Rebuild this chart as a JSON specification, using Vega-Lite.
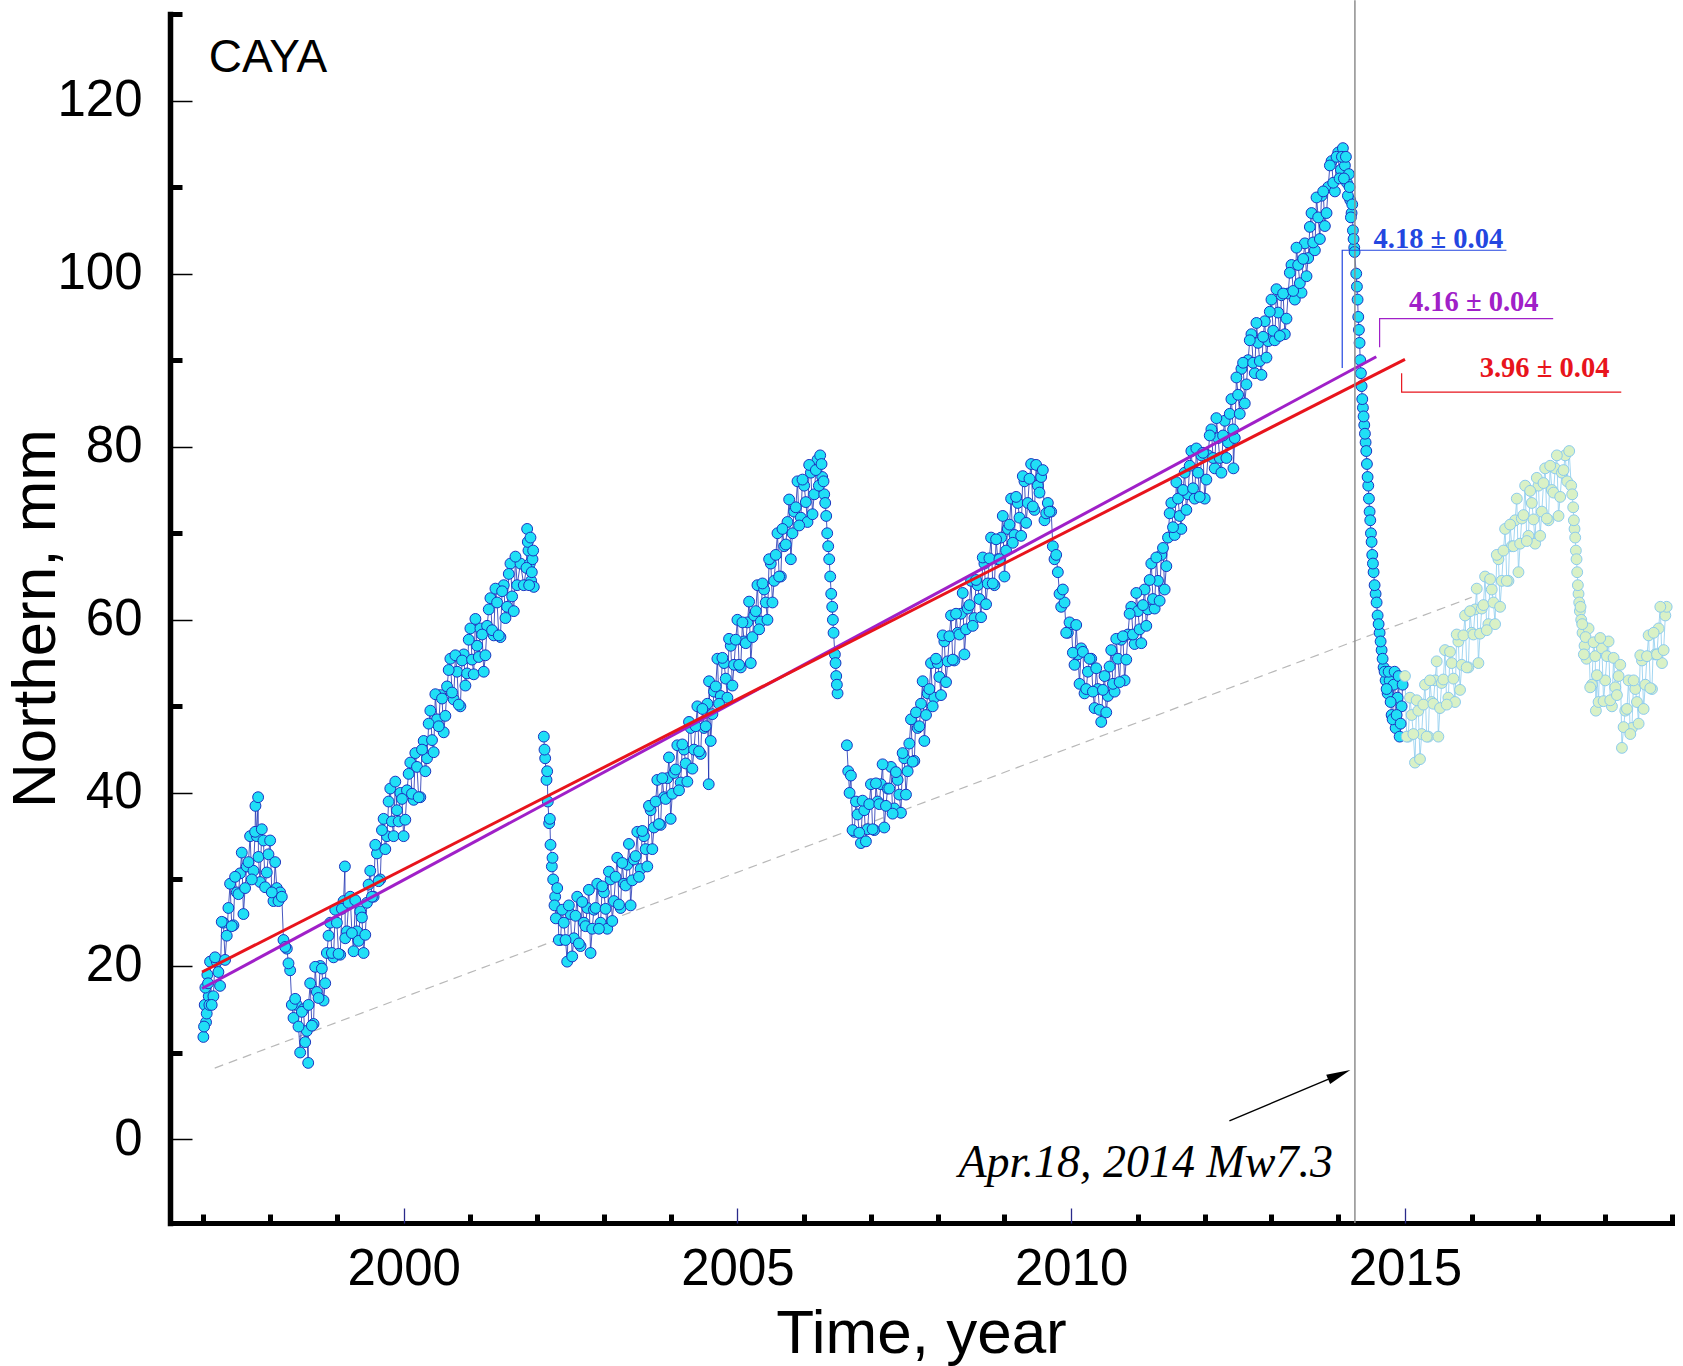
{
  "$schema": "https://vega.github.io/schema/vega-lite/v6.json",
  "description": "CAYA GPS station, northern component",
  "width": 1502,
  "height": 1209,
  "autosize": "none",
  "padding": {"left": 170, "top": 14, "right": 11, "bottom": 143},
  "background": "white",
  "config": {
    "view": {"stroke": null},
    "axis": {"grid": false, "labelFont": "Liberation Sans", "titleFont": "Liberation Sans", "labelColor": "black", "titleColor": "black", "titleFontWeight": "normal"}
  },
  "datasets": {
    "gps": [
      {"s":"a","t":1997.00,"n":11.8},{"s":"a","t":1997.02,"n":15.5},{"s":"a","t":1997.04,"n":13.5},{"s":"a","t":1997.06,"n":19},{"s":"a","t":1997.08,"n":16.5},
      {"s":"a","t":1997.01,"n":13},{"s":"a","t":1997.03,"n":17.5},{"s":"a","t":1997.05,"n":14.5},{"s":"a","t":1997.07,"n":18},{"s":"a","t":1997.09,"n":15.5},
      {"s":"a","t":1997.10,"n":20.5},{"s":"a","t":1997.15,"n":16.5},{"s":"a","t":1997.20,"n":20.5},{"s":"a","t":1997.25,"n":17.7},{"s":"a","t":1997.30,"n":25},
      {"s":"a","t":1997.35,"n":23.5},{"s":"a","t":1997.40,"n":29.5},{"s":"a","t":1997.45,"n":24.7},{"s":"a","t":1997.50,"n":28.5},{"s":"a","t":1997.55,"n":30.7},
      {"s":"a","t":1997.60,"n":26},{"s":"a","t":1997.65,"n":31.5},{"s":"a","t":1997.70,"n":35},{"s":"a","t":1997.75,"n":31},{"s":"a","t":1997.78,"n":38.5},
      {"s":"a","t":1997.80,"n":35},{"s":"a","t":1997.82,"n":39.5},{"s":"a","t":1997.85,"n":29.7},{"s":"a","t":1997.90,"n":34.5},{"s":"a","t":1997.95,"n":30.8},
      {"s":"a","t":1998.00,"n":34.5},{"s":"a","t":1998.05,"n":27.5},{"s":"a","t":1998.10,"n":29},{"s":"a","t":1998.15,"n":28.5},{"s":"a","t":1998.20,"n":23},
      {"s":"a","t":1998.25,"n":22},{"s":"a","t":1998.30,"n":19.5},{"s":"a","t":1998.35,"n":14},{"s":"a","t":1998.40,"n":15.5},{"s":"a","t":1998.45,"n":10},
      {"s":"a","t":1998.50,"n":15},{"s":"a","t":1998.55,"n":12.5},{"s":"a","t":1998.57,"n":8.8},{"s":"a","t":1998.60,"n":18},{"s":"a","t":1998.65,"n":13.3},
      {"s":"a","t":1998.70,"n":17},{"s":"a","t":1998.75,"n":20},{"s":"a","t":1998.80,"n":16},{"s":"a","t":1998.85,"n":21.5},{"s":"a","t":1998.90,"n":25},
      {"s":"a","t":1998.95,"n":21},{"s":"a","t":1999.00,"n":25},{"s":"a","t":1999.05,"n":21.3},{"s":"a","t":1999.10,"n":27.5},{"s":"a","t":1999.12,"n":31.5},
      {"s":"a","t":1999.15,"n":24},{"s":"a","t":1999.20,"n":28},{"s":"a","t":1999.25,"n":21.7},{"s":"a","t":1999.30,"n":24},{"s":"a","t":1999.35,"n":26.3},
      {"s":"a","t":1999.40,"n":21.5},{"s":"a","t":1999.45,"n":27.3},{"s":"a","t":1999.50,"n":31},{"s":"a","t":1999.55,"n":28},{"s":"a","t":1999.60,"n":33},
      {"s":"a","t":1999.65,"n":30},{"s":"a","t":1999.70,"n":37},{"s":"a","t":1999.75,"n":35},{"s":"a","t":1999.80,"n":40.5},{"s":"a","t":1999.85,"n":35},
      {"s":"a","t":1999.90,"n":38},{"s":"a","t":1999.95,"n":40},{"s":"a","t":2000.00,"n":35},{"s":"a","t":2000.05,"n":40.3},{"s":"a","t":2000.10,"n":43.5},
      {"s":"a","t":2000.15,"n":39.2},{"s":"a","t":2000.20,"n":43},{"s":"a","t":2000.25,"n":39.5},{"s":"a","t":2000.30,"n":46},{"s":"a","t":2000.35,"n":44},
      {"s":"a","t":2000.40,"n":49.5},{"s":"a","t":2000.45,"n":44.7},{"s":"a","t":2000.50,"n":48.5},{"s":"a","t":2000.55,"n":51.3},{"s":"a","t":2000.60,"n":47},
      {"s":"a","t":2000.65,"n":52.3},{"s":"a","t":2000.70,"n":55.5},{"s":"a","t":2000.75,"n":50.8},{"s":"a","t":2000.80,"n":54},{"s":"a","t":2000.85,"n":50},
      {"s":"a","t":2000.90,"n":56},{"s":"a","t":2000.95,"n":53.8},{"s":"a","t":2001.00,"n":59},{"s":"a","t":2001.05,"n":53.7},{"s":"a","t":2001.10,"n":57},
      {"s":"a","t":2001.15,"n":59},{"s":"a","t":2001.20,"n":54},{"s":"a","t":2001.25,"n":59.3},{"s":"a","t":2001.30,"n":62.5},{"s":"a","t":2001.35,"n":58.2},
      {"s":"a","t":2001.40,"n":62},{"s":"a","t":2001.45,"n":58},{"s":"a","t":2001.50,"n":64},{"s":"a","t":2001.55,"n":61.5},{"s":"a","t":2001.60,"n":66.5},
      {"s":"a","t":2001.65,"n":61},{"s":"a","t":2001.70,"n":64},{"s":"a","t":2001.75,"n":66.5},{"s":"a","t":2001.80,"n":64},{"s":"a","t":2001.85,"n":70.5},
      {"s":"a","t":2001.87,"n":68},{"s":"a","t":2001.89,"n":66.5},{"s":"a","t":2001.91,"n":64.5},{"s":"a","t":2001.93,"n":67},{"s":"a","t":2001.95,"n":63.8},
      {"s":"a","t":2001.84,"n":66},{"s":"a","t":2001.86,"n":69},{"s":"a","t":2001.88,"n":64},{"s":"a","t":2001.90,"n":69.5},{"s":"a","t":2001.92,"n":65.5},{"s":"a","t":2001.94,"n":68},
      {"s":"a","t":1997.125,"n":15.5},{"s":"a","t":1997.175,"n":21},{"s":"a","t":1997.225,"n":19.3},{"s":"a","t":1997.275,"n":25.1},{"s":"a","t":1997.325,"n":20.7},
      {"s":"a","t":1997.375,"n":26.7},{"s":"a","t":1997.425,"n":24.6},{"s":"a","t":1997.475,"n":30.3},{"s":"a","t":1997.525,"n":28.3},{"s":"a","t":1997.575,"n":33.1},
      {"s":"a","t":1997.625,"n":29},{"s":"a","t":1997.675,"n":32},{"s":"a","t":1997.725,"n":30},{"s":"a","t":1997.775,"n":35.5},{"s":"a","t":1997.825,"n":32.6},
      {"s":"a","t":1997.875,"n":35.8},{"s":"a","t":1997.925,"n":29.1},{"s":"a","t":1997.975,"n":32.9},{"s":"a","t":1998.025,"n":28.5},{"s":"a","t":1998.075,"n":32},
      {"s":"a","t":1998.125,"n":27.5},{"s":"a","t":1998.175,"n":28},{"s":"a","t":1998.225,"n":22.2},{"s":"a","t":1998.275,"n":20.3},{"s":"a","t":1998.325,"n":15.5},
      {"s":"a","t":1998.375,"n":16.2},{"s":"a","t":1998.425,"n":13},{"s":"a","t":1998.475,"n":14.7},{"s":"a","t":1998.525,"n":11.2},{"s":"a","t":1998.575,"n":15.5},
      {"s":"a","t":1998.625,"n":13.1},{"s":"a","t":1998.675,"n":19.9},{"s":"a","t":1998.725,"n":16.3},{"s":"a","t":1998.775,"n":19.7},{"s":"a","t":1998.825,"n":18},
      {"s":"a","t":1998.875,"n":23.5},{"s":"a","t":1998.925,"n":21.5},{"s":"a","t":1998.975,"n":26.5},{"s":"a","t":1999.025,"n":21.4},{"s":"a","t":1999.075,"n":26.6},
      {"s":"a","t":1999.125,"n":23.2},{"s":"a","t":1999.175,"n":27.3},{"s":"a","t":1999.225,"n":23.8},{"s":"a","t":1999.275,"n":27.6},{"s":"a","t":1999.325,"n":22.9},
      {"s":"a","t":1999.375,"n":25.6},{"s":"a","t":1999.425,"n":23.6},{"s":"a","t":1999.475,"n":29.4},{"s":"a","t":1999.525,"n":28},{"s":"a","t":1999.575,"n":34},
      {"s":"a","t":1999.625,"n":29.8},{"s":"a","t":1999.675,"n":35.7},{"s":"a","t":1999.725,"n":33.5},{"s":"a","t":1999.775,"n":39},{"s":"a","t":1999.825,"n":36.7},
      {"s":"a","t":1999.875,"n":41.3},{"s":"a","t":1999.925,"n":36.7},{"s":"a","t":1999.975,"n":39.3},{"s":"a","t":2000.025,"n":36.9},{"s":"a","t":2000.075,"n":42.2},
      {"s":"a","t":2000.125,"n":39.9},{"s":"a","t":2000.175,"n":44.6},{"s":"a","t":2000.225,"n":39.5},{"s":"a","t":2000.275,"n":45},{"s":"a","t":2000.325,"n":42.5},
      {"s":"a","t":2000.375,"n":48},{"s":"a","t":2000.425,"n":46.1},{"s":"a","t":2000.475,"n":51.4},{"s":"a","t":2000.525,"n":47.7},{"s":"a","t":2000.575,"n":50.9},
      {"s":"a","t":2000.625,"n":48.9},{"s":"a","t":2000.675,"n":54.2},{"s":"a","t":2000.725,"n":51.6},{"s":"a","t":2000.775,"n":55.9},{"s":"a","t":2000.825,"n":50.2},
      {"s":"a","t":2000.875,"n":55.3},{"s":"a","t":2000.925,"n":52.4},{"s":"a","t":2000.975,"n":57.7},{"s":"a","t":2001.025,"n":55.4},{"s":"a","t":2001.075,"n":60.1},
      {"s":"a","t":2001.125,"n":55.7},{"s":"a","t":2001.175,"n":58.3},{"s":"a","t":2001.225,"n":55.9},{"s":"a","t":2001.275,"n":61.2},{"s":"a","t":2001.325,"n":58.8},
      {"s":"a","t":2001.375,"n":63.6},{"s":"a","t":2001.425,"n":58.2},{"s":"a","t":2001.475,"n":63.3},{"s":"a","t":2001.525,"n":60.2},{"s":"a","t":2001.575,"n":65.3},
      {"s":"a","t":2001.625,"n":62.7},{"s":"a","t":2001.675,"n":67.3},
      {"s":"b","t":2002.10,"n":46.5},{"s":"b","t":2002.12,"n":44},{"s":"b","t":2002.14,"n":41.5},{"s":"b","t":2002.16,"n":39},{"s":"b","t":2002.18,"n":36.5},
      {"s":"b","t":2002.20,"n":34},{"s":"b","t":2002.22,"n":31.5},{"s":"b","t":2002.24,"n":30},{"s":"b","t":2002.27,"n":28},{"s":"b","t":2002.30,"n":29},
      {"s":"b","t":2002.11,"n":45},{"s":"b","t":2002.15,"n":42.5},{"s":"b","t":2002.19,"n":37},{"s":"b","t":2002.23,"n":32.5},{"s":"b","t":2002.26,"n":27},{"s":"b","t":2002.28,"n":25.5},
      {"s":"b","t":2002.35,"n":23},{"s":"b","t":2002.40,"n":25},{"s":"b","t":2002.45,"n":20.5},{"s":"b","t":2002.50,"n":26},{"s":"b","t":2002.55,"n":23.2},
      {"s":"b","t":2002.60,"n":28},{"s":"b","t":2002.65,"n":22.3},{"s":"b","t":2002.70,"n":25},{"s":"b","t":2002.75,"n":26.7},{"s":"b","t":2002.80,"n":21.5},
      {"s":"b","t":2002.85,"n":26.5},{"s":"b","t":2002.90,"n":29.5},{"s":"b","t":2002.95,"n":25},{"s":"b","t":2003.00,"n":28.5},{"s":"b","t":2003.05,"n":24.3},
      {"s":"b","t":2003.10,"n":30},{"s":"b","t":2003.15,"n":27.5},{"s":"b","t":2003.20,"n":32.5},{"s":"b","t":2003.25,"n":26.7},{"s":"b","t":2003.30,"n":29.5},
      {"s":"b","t":2003.35,"n":31.7},{"s":"b","t":2003.40,"n":27},{"s":"b","t":2003.45,"n":32.3},{"s":"b","t":2003.50,"n":35.5},{"s":"b","t":2003.55,"n":31.2},
      {"s":"b","t":2003.60,"n":35},{"s":"b","t":2003.65,"n":31.5},{"s":"b","t":2003.70,"n":38},{"s":"b","t":2003.75,"n":36},{"s":"b","t":2003.80,"n":41.5},
      {"s":"b","t":2003.85,"n":36.3},{"s":"b","t":2003.90,"n":39.5},{"s":"b","t":2003.95,"n":41.7},{"s":"b","t":2004.00,"n":37},{"s":"b","t":2004.05,"n":42.3},
      {"s":"b","t":2004.10,"n":45.5},{"s":"b","t":2004.15,"n":41.2},{"s":"b","t":2004.20,"n":45},{"s":"b","t":2004.25,"n":41.3},{"s":"b","t":2004.30,"n":47.5},
      {"s":"b","t":2004.35,"n":45},{"s":"b","t":2004.40,"n":50},{"s":"b","t":2004.45,"n":44.5},{"s":"b","t":2004.50,"n":47.5},{"s":"b","t":2004.55,"n":50.3},
      {"s":"b","t":2004.57,"n":41},{"s":"b","t":2004.60,"n":46},{"s":"b","t":2004.65,"n":51.7},{"s":"b","t":2004.70,"n":55.5},{"s":"b","t":2004.75,"n":51.2},
      {"s":"b","t":2004.80,"n":55},{"s":"b","t":2004.85,"n":51},{"s":"b","t":2004.90,"n":57},{"s":"b","t":2004.95,"n":54.8},{"s":"b","t":2005.00,"n":60},
      {"s":"b","t":2005.05,"n":54.5},{"s":"b","t":2005.10,"n":57.5},{"s":"b","t":2005.15,"n":59.7},{"s":"b","t":2005.20,"n":55},{"s":"b","t":2005.25,"n":60.5},
      {"s":"b","t":2005.30,"n":64},{"s":"b","t":2005.35,"n":59.8},{"s":"b","t":2005.40,"n":63.5},{"s":"b","t":2005.45,"n":60},{"s":"b","t":2005.50,"n":66.5},
      {"s":"b","t":2005.55,"n":64.5},{"s":"b","t":2005.60,"n":70},{"s":"b","t":2005.65,"n":65},{"s":"b","t":2005.70,"n":68.5},{"s":"b","t":2005.75,"n":71.3},
      {"s":"b","t":2005.80,"n":67},{"s":"b","t":2005.85,"n":72.5},{"s":"b","t":2005.90,"n":76},{"s":"b","t":2005.95,"n":71.8},{"s":"b","t":2006.00,"n":75.5},
      {"s":"b","t":2006.05,"n":71.3},{"s":"b","t":2006.10,"n":77},{"s":"b","t":2006.15,"n":74.5},{"s":"b","t":2006.20,"n":78.5},{"s":"b","t":2006.24,"n":79},
      {"s":"b","t":2006.27,"n":76.5},{"s":"b","t":2006.30,"n":74.5},{"s":"b","t":2006.33,"n":72},{"s":"b","t":2006.36,"n":68.5},{"s":"b","t":2006.39,"n":65},
      {"s":"b","t":2006.42,"n":61.5},{"s":"b","t":2006.44,"n":58.5},{"s":"b","t":2006.46,"n":56},{"s":"b","t":2006.48,"n":53.5},{"s":"b","t":2006.50,"n":51.5},
      {"s":"b","t":2002.325,"n":23},{"s":"b","t":2002.375,"n":26.5},{"s":"b","t":2002.425,"n":23},{"s":"b","t":2002.475,"n":27},{"s":"b","t":2002.525,"n":21.1},
      {"s":"b","t":2002.575,"n":25.8},{"s":"b","t":2002.625,"n":22.6},{"s":"b","t":2002.675,"n":27.4},{"s":"b","t":2002.725,"n":24.6},{"s":"b","t":2002.775,"n":28.8},
      {"s":"b","t":2002.825,"n":24.3},{"s":"b","t":2002.875,"n":26.7},{"s":"b","t":2002.925,"n":24.3},{"s":"b","t":2002.975,"n":29.2},{"s":"b","t":2003.025,"n":26.6},
      {"s":"b","t":2003.075,"n":30.9},{"s":"b","t":2003.125,"n":25.2},{"s":"b","t":2003.175,"n":30.3},{"s":"b","t":2003.225,"n":27.1},{"s":"b","t":2003.275,"n":31.9},
      {"s":"b","t":2003.325,"n":29.3},{"s":"b","t":2003.375,"n":34.1},{"s":"b","t":2003.425,"n":29.9},{"s":"b","t":2003.475,"n":32.7},{"s":"b","t":2003.525,"n":30.3},
      {"s":"b","t":2003.575,"n":35.6},{"s":"b","t":2003.625,"n":33.5},{"s":"b","t":2003.675,"n":38.5},{"s":"b","t":2003.725,"n":33.5},{"s":"b","t":2003.775,"n":39},
      {"s":"b","t":2003.825,"n":36.4},{"s":"b","t":2003.875,"n":41.7},{"s":"b","t":2003.925,"n":39.3},{"s":"b","t":2003.975,"n":44.1},{"s":"b","t":2004.025,"n":39.9},
      {"s":"b","t":2004.075,"n":42.7},{"s":"b","t":2004.125,"n":40.3},{"s":"b","t":2004.175,"n":45.6},{"s":"b","t":2004.225,"n":43.4},{"s":"b","t":2004.275,"n":48.2},
      {"s":"b","t":2004.325,"n":42.8},{"s":"b","t":2004.375,"n":47.7},{"s":"b","t":2004.425,"n":44.8},{"s":"b","t":2004.475,"n":49.7},{"s":"b","t":2004.525,"n":47.7},
      {"s":"b","t":2004.575,"n":52.9},{"s":"b","t":2004.625,"n":49.1},{"s":"b","t":2004.675,"n":52.3},{"s":"b","t":2004.725,"n":50.3},{"s":"b","t":2004.775,"n":55.6},
      {"s":"b","t":2004.825,"n":53.2},{"s":"b","t":2004.875,"n":57.8},{"s":"b","t":2004.925,"n":52.4},{"s":"b","t":2004.975,"n":57.7},{"s":"b","t":2005.025,"n":54.8},
      {"s":"b","t":2005.075,"n":59.7},{"s":"b","t":2005.125,"n":57.3},{"s":"b","t":2005.175,"n":62.1},{"s":"b","t":2005.225,"n":58},{"s":"b","t":2005.275,"n":61},
      {"s":"b","t":2005.325,"n":58.9},{"s":"b","t":2005.375,"n":64.2},{"s":"b","t":2005.425,"n":62},{"s":"b","t":2005.475,"n":67},{"s":"b","t":2005.525,"n":62},
      {"s":"b","t":2005.575,"n":67.5},{"s":"b","t":2005.625,"n":65},{"s":"b","t":2005.675,"n":70.5},{"s":"b","t":2005.725,"n":68.7},{"s":"b","t":2005.775,"n":73.9},
      {"s":"b","t":2005.825,"n":70},{"s":"b","t":2005.875,"n":73},{"s":"b","t":2005.925,"n":70.9},{"s":"b","t":2005.975,"n":76.2},{"s":"b","t":2006.025,"n":73.6},
      {"s":"b","t":2006.075,"n":77.9},{"s":"b","t":2006.125,"n":72.2},{"s":"b","t":2006.175,"n":77.3},{"s":"b","t":2006.22,"n":75.5},{"s":"b","t":2006.26,"n":78},
      {"s":"b","t":2006.29,"n":76},{"s":"b","t":2006.315,"n":73.5},{"s":"b","t":2006.345,"n":70},{"s":"b","t":2006.375,"n":67},{"s":"b","t":2006.405,"n":63},
      {"s":"b","t":2006.43,"n":60},{"s":"b","t":2006.47,"n":55},{"s":"b","t":2006.49,"n":52.5},
      {"s":"c","t":2006.64,"n":45.5},{"s":"c","t":2006.66,"n":42.5},{"s":"c","t":2006.68,"n":40},{"s":"c","t":2006.70,"n":42},{"s":"c","t":2006.75,"n":35.5},
      {"s":"c","t":2006.80,"n":37.5},{"s":"c","t":2006.85,"n":34.2},{"s":"c","t":2006.90,"n":38},{"s":"c","t":2006.95,"n":35.8},{"s":"c","t":2007.00,"n":41},
      {"s":"c","t":2007.05,"n":35.7},{"s":"c","t":2007.10,"n":39},{"s":"c","t":2007.15,"n":41},{"s":"c","t":2007.20,"n":36},{"s":"c","t":2007.25,"n":40.5},
      {"s":"c","t":2007.30,"n":43},{"s":"c","t":2007.35,"n":38.2},{"s":"c","t":2007.40,"n":41.5},{"s":"c","t":2007.45,"n":37.7},{"s":"c","t":2007.50,"n":44},
      {"s":"c","t":2007.55,"n":42.5},{"s":"c","t":2007.60,"n":48.5},{"s":"c","t":2007.65,"n":43.7},{"s":"c","t":2007.70,"n":47.5},{"s":"c","t":2007.75,"n":50.3},
      {"s":"c","t":2007.80,"n":46},{"s":"c","t":2007.85,"n":51.5},{"s":"c","t":2007.90,"n":55},{"s":"c","t":2007.95,"n":51},{"s":"c","t":2008.00,"n":55},
      {"s":"c","t":2008.05,"n":51.3},{"s":"c","t":2008.10,"n":57.5},{"s":"c","t":2008.15,"n":55.2},{"s":"c","t":2008.20,"n":60.5},{"s":"c","t":2008.25,"n":55.3},
      {"s":"c","t":2008.30,"n":58.5},{"s":"c","t":2008.35,"n":60.7},{"s":"c","t":2008.40,"n":56},{"s":"c","t":2008.45,"n":61.3},{"s":"c","t":2008.50,"n":64.5},
      {"s":"c","t":2008.55,"n":60.2},{"s":"c","t":2008.60,"n":64},{"s":"c","t":2008.65,"n":60.3},{"s":"c","t":2008.70,"n":66.5},{"s":"c","t":2008.75,"n":64.2},
      {"s":"c","t":2008.80,"n":69.5},{"s":"c","t":2008.85,"n":64},{"s":"c","t":2008.90,"n":67},{"s":"c","t":2008.95,"n":69.5},{"s":"c","t":2009.00,"n":65},
      {"s":"c","t":2009.05,"n":70.5},{"s":"c","t":2009.10,"n":74},{"s":"c","t":2009.15,"n":69.8},{"s":"c","t":2009.20,"n":73.5},{"s":"c","t":2009.25,"n":69.7},
      {"s":"c","t":2009.30,"n":76},{"s":"c","t":2009.35,"n":73.5},{"s":"c","t":2009.40,"n":78},{"s":"c","t":2009.45,"n":72.7},{"s":"c","t":2009.50,"n":75.5},
      {"s":"c","t":2009.55,"n":76.5},{"s":"c","t":2009.60,"n":71.5},{"s":"c","t":2009.65,"n":73.5},{"s":"c","t":2009.70,"n":72.5},{"s":"c","t":2009.75,"n":67},
      {"s":"c","t":2009.80,"n":65.5},{"s":"c","t":2009.85,"n":61.5},{"s":"c","t":2009.90,"n":62},{"s":"c","t":2009.95,"n":58.5},{"s":"c","t":2010.00,"n":59.5},
      {"s":"c","t":2010.05,"n":54.8},{"s":"c","t":2010.10,"n":56},{"s":"c","t":2010.15,"n":56.7},{"s":"c","t":2010.20,"n":51.5},{"s":"c","t":2010.25,"n":54},
      {"s":"c","t":2010.30,"n":55.5},{"s":"c","t":2010.35,"n":49.8},{"s":"c","t":2010.40,"n":52},{"s":"c","t":2010.45,"n":48.2},{"s":"c","t":2010.50,"n":53.5},
      {"s":"c","t":2010.55,"n":51.2},{"s":"c","t":2010.60,"n":56.5},{"s":"c","t":2010.65,"n":51.7},{"s":"c","t":2010.70,"n":55.5},{"s":"c","t":2010.75,"n":57.7},
      {"s":"c","t":2010.80,"n":53},{"s":"c","t":2010.85,"n":58.3},{"s":"c","t":2010.90,"n":61.5},{"s":"c","t":2010.95,"n":57.2},{"s":"c","t":2011.00,"n":61},
      {"s":"c","t":2011.05,"n":57.3},{"s":"c","t":2011.10,"n":63.5},{"s":"c","t":2011.15,"n":61.2},{"s":"c","t":2011.20,"n":66.5},{"s":"c","t":2011.25,"n":61.3},
      {"s":"c","t":2011.30,"n":64.5},{"s":"c","t":2011.35,"n":67.5},{"s":"c","t":2011.40,"n":63.5},{"s":"c","t":2011.45,"n":69.5},{"s":"c","t":2011.50,"n":73.5},
      {"s":"c","t":2011.55,"n":69.8},{"s":"c","t":2011.60,"n":74},{"s":"c","t":2011.65,"n":70.5},{"s":"c","t":2011.70,"n":77},{"s":"c","t":2011.75,"n":74.5},
      {"s":"c","t":2011.80,"n":79.5},{"s":"c","t":2011.85,"n":74},{"s":"c","t":2011.90,"n":77},{"s":"c","t":2011.95,"n":79},{"s":"c","t":2012.00,"n":74},
      {"s":"c","t":2012.05,"n":79},{"s":"c","t":2012.10,"n":82},{"s":"c","t":2012.15,"n":77.5},{"s":"c","t":2012.20,"n":81},{"s":"c","t":2012.25,"n":77},
      {"s":"c","t":2012.30,"n":83},{"s":"c","t":2012.35,"n":80.5},{"s":"c","t":2012.40,"n":85.5},{"s":"c","t":2012.43,"n":77.5},{"s":"c","t":2012.45,"n":81},
      {"s":"c","t":2012.50,"n":86},{"s":"c","t":2012.55,"n":89},{"s":"c","t":2012.60,"n":85},{"s":"c","t":2012.65,"n":90},{"s":"c","t":2012.70,"n":93},
      {"s":"c","t":2012.75,"n":88.5},{"s":"c","t":2012.80,"n":92},{"s":"c","t":2012.85,"n":88.3},{"s":"c","t":2012.90,"n":94.5},{"s":"c","t":2012.95,"n":92.2},
      {"s":"c","t":2013.00,"n":97},{"s":"c","t":2013.05,"n":92.3},{"s":"c","t":2013.10,"n":95.5},{"s":"c","t":2013.15,"n":97.5},{"s":"c","t":2013.20,"n":93},
      {"s":"c","t":2013.25,"n":97.7},{"s":"c","t":2013.30,"n":101},{"s":"c","t":2013.35,"n":97},{"s":"c","t":2013.40,"n":101},{"s":"c","t":2013.45,"n":97.8},
      {"s":"c","t":2013.50,"n":103.5},{"s":"c","t":2013.55,"n":101.8},{"s":"c","t":2013.60,"n":107},{"s":"c","t":2013.65,"n":102.7},{"s":"c","t":2013.70,"n":106.5},
      {"s":"c","t":2013.75,"n":109},{"s":"c","t":2013.80,"n":105.5},{"s":"c","t":2013.85,"n":110},{"s":"c","t":2013.90,"n":113},{"s":"c","t":2013.95,"n":109.5},
      {"s":"c","t":2014.00,"n":114},{"s":"c","t":2014.04,"n":112},{"s":"c","t":2014.07,"n":114.5},{"s":"c","t":2014.10,"n":112.5},{"s":"c","t":2014.13,"n":110.5},
      {"s":"c","t":2014.16,"n":111.5},{"s":"c","t":2014.18,"n":108.5},{"s":"c","t":2014.20,"n":107},{"s":"c","t":2014.22,"n":105},{"s":"c","t":2014.24,"n":103},
      {"s":"c","t":2014.27,"n":100},{"s":"c","t":2014.29,"n":97},{"s":"c","t":2014.31,"n":93.5},{"s":"c","t":2014.33,"n":90},{"s":"c","t":2014.35,"n":87},
      {"s":"c","t":2014.37,"n":84.5},{"s":"c","t":2014.39,"n":82.5},{"s":"c","t":2014.41,"n":80.5},{"s":"c","t":2014.43,"n":78},{"s":"c","t":2014.45,"n":75.5},
      {"s":"c","t":2014.47,"n":72.5},{"s":"c","t":2014.49,"n":70},{"s":"c","t":2014.51,"n":67.5},{"s":"c","t":2014.53,"n":65.5},{"s":"c","t":2014.56,"n":63},
      {"s":"c","t":2014.59,"n":60.5},{"s":"c","t":2014.62,"n":58.5},{"s":"c","t":2014.65,"n":56.5},{"s":"c","t":2014.68,"n":54.5},{"s":"c","t":2014.71,"n":53},
      {"s":"c","t":2014.74,"n":51.5},{"s":"c","t":2014.77,"n":53},{"s":"c","t":2014.80,"n":49},{"s":"c","t":2014.83,"n":52.5},{"s":"c","t":2014.86,"n":47.5},
      {"s":"c","t":2014.89,"n":51},{"s":"c","t":2014.92,"n":46.5},{"s":"c","t":2014.95,"n":50},
      {"s":"c","t":2006.725,"n":35.7},{"s":"c","t":2006.775,"n":39},{"s":"c","t":2006.825,"n":35.4},{"s":"c","t":2006.875,"n":39.1},{"s":"c","t":2006.925,"n":34.4},
      {"s":"c","t":2006.975,"n":38.7},{"s":"c","t":2007.025,"n":35.8},{"s":"c","t":2007.075,"n":41.1},{"s":"c","t":2007.125,"n":38.7},{"s":"c","t":2007.175,"n":43.3},
      {"s":"c","t":2007.225,"n":38.5},{"s":"c","t":2007.275,"n":40.5},{"s":"c","t":2007.325,"n":37.6},{"s":"c","t":2007.375,"n":42.4},{"s":"c","t":2007.425,"n":39.8},
      {"s":"c","t":2007.475,"n":44.6},{"s":"c","t":2007.525,"n":39.8},{"s":"c","t":2007.575,"n":45.7},{"s":"c","t":2007.625,"n":43.6},{"s":"c","t":2007.675,"n":49.3},
      {"s":"c","t":2007.725,"n":47.7},{"s":"c","t":2007.775,"n":52.9},{"s":"c","t":2007.825,"n":49},{"s":"c","t":2007.875,"n":52},{"s":"c","t":2007.925,"n":50},
      {"s":"c","t":2007.975,"n":55.5},{"s":"c","t":2008.025,"n":53.4},{"s":"c","t":2008.075,"n":58.2},{"s":"c","t":2008.125,"n":52.8},{"s":"c","t":2008.175,"n":58.1},
      {"s":"c","t":2008.225,"n":55.4},{"s":"c","t":2008.275,"n":60.7},{"s":"c","t":2008.325,"n":58.3},{"s":"c","t":2008.375,"n":63.1},{"s":"c","t":2008.425,"n":58.9},
      {"s":"c","t":2008.475,"n":61.7},{"s":"c","t":2008.525,"n":59.3},{"s":"c","t":2008.575,"n":64.6},{"s":"c","t":2008.625,"n":62.4},{"s":"c","t":2008.675,"n":67.2},
      {"s":"c","t":2008.725,"n":61.8},{"s":"c","t":2008.775,"n":67.1},{"s":"c","t":2008.825,"n":64.2},{"s":"c","t":2008.875,"n":69.3},{"s":"c","t":2008.925,"n":67},
      {"s":"c","t":2008.975,"n":72},{"s":"c","t":2009.025,"n":68},{"s":"c","t":2009.075,"n":71},{"s":"c","t":2009.125,"n":68.9},{"s":"c","t":2009.175,"n":74.2},
      {"s":"c","t":2009.225,"n":71.8},{"s":"c","t":2009.275,"n":76.6},{"s":"c","t":2009.325,"n":71.2},{"s":"c","t":2009.375,"n":76.3},{"s":"c","t":2009.425,"n":73.1},
      {"s":"c","t":2009.475,"n":77.9},{"s":"c","t":2009.525,"n":74.7},{"s":"c","t":2009.575,"n":77.3},{"s":"c","t":2009.625,"n":72.3},{"s":"c","t":2009.675,"n":72.5},
      {"s":"c","t":2009.725,"n":68.5},{"s":"c","t":2009.775,"n":67.5},{"s":"c","t":2009.825,"n":63},{"s":"c","t":2009.875,"n":63.5},{"s":"c","t":2009.925,"n":58.5},
      {"s":"c","t":2009.975,"n":59.7},{"s":"c","t":2010.025,"n":56.2},{"s":"c","t":2010.075,"n":59.4},{"s":"c","t":2010.125,"n":52.6},{"s":"c","t":2010.175,"n":56.3},
      {"s":"c","t":2010.225,"n":52},{"s":"c","t":2010.275,"n":55.5},{"s":"c","t":2010.325,"n":51.7},{"s":"c","t":2010.375,"n":54.4},{"s":"c","t":2010.425,"n":49.6},
      {"s":"c","t":2010.475,"n":51.9},{"s":"c","t":2010.525,"n":49.3},{"s":"c","t":2010.575,"n":54.6},{"s":"c","t":2010.625,"n":52.6},{"s":"c","t":2010.675,"n":57.8},
      {"s":"c","t":2010.725,"n":52.8},{"s":"c","t":2010.775,"n":58.1},{"s":"c","t":2010.825,"n":55.4},{"s":"c","t":2010.875,"n":60.7},{"s":"c","t":2010.925,"n":58.3},
      {"s":"c","t":2010.975,"n":63.1},{"s":"c","t":2011.025,"n":58.9},{"s":"c","t":2011.075,"n":61.7},{"s":"c","t":2011.125,"n":59.3},{"s":"c","t":2011.175,"n":64.6},
      {"s":"c","t":2011.225,"n":62.4},{"s":"c","t":2011.275,"n":67.2},{"s":"c","t":2011.325,"n":62.2},{"s":"c","t":2011.375,"n":68.3},{"s":"c","t":2011.425,"n":66.2},
      {"s":"c","t":2011.475,"n":72.3},{"s":"c","t":2011.525,"n":70.7},{"s":"c","t":2011.575,"n":75.9},{"s":"c","t":2011.625,"n":72},{"s":"c","t":2011.675,"n":75},
      {"s":"c","t":2011.725,"n":72.7},{"s":"c","t":2011.775,"n":77.8},{"s":"c","t":2011.825,"n":75.2},{"s":"c","t":2011.875,"n":79.8},{"s":"c","t":2011.925,"n":74.2},
      {"s":"c","t":2011.975,"n":79.3},{"s":"c","t":2012.025,"n":76.2},{"s":"c","t":2012.075,"n":81.3},{"s":"c","t":2012.125,"n":78.7},{"s":"c","t":2012.175,"n":83.3},
      {"s":"c","t":2012.225,"n":78.7},{"s":"c","t":2012.275,"n":81.3},{"s":"c","t":2012.325,"n":78.7},{"s":"c","t":2012.375,"n":83.8},{"s":"c","t":2012.425,"n":82},
      {"s":"c","t":2012.475,"n":88},{"s":"c","t":2012.525,"n":83.8},{"s":"c","t":2012.575,"n":89.7},{"s":"c","t":2012.625,"n":87.2},{"s":"c","t":2012.675,"n":92.3},
      {"s":"c","t":2012.725,"n":89.7},{"s":"c","t":2012.775,"n":94.3},{"s":"c","t":2012.825,"n":89.9},{"s":"c","t":2012.875,"n":92.7},{"s":"c","t":2012.925,"n":90.3},
      {"s":"c","t":2012.975,"n":95.6},{"s":"c","t":2013.025,"n":93.4},{"s":"c","t":2013.075,"n":98.2},{"s":"c","t":2013.125,"n":92.8},{"s":"c","t":2013.175,"n":97.7},
      {"s":"c","t":2013.225,"n":94.8},{"s":"c","t":2013.275,"n":100.1},{"s":"c","t":2013.325,"n":98},{"s":"c","t":2013.375,"n":103},{"s":"c","t":2013.425,"n":98.9},
      {"s":"c","t":2013.475,"n":101.7},{"s":"c","t":2013.525,"n":99.7},{"s":"c","t":2013.575,"n":105.4},{"s":"c","t":2013.625,"n":103.6},{"s":"c","t":2013.675,"n":108.8},
      {"s":"c","t":2013.725,"n":104},{"s":"c","t":2013.775,"n":109.5},{"s":"c","t":2013.825,"n":107},{"s":"c","t":2013.875,"n":112.5},{"s":"c","t":2013.925,"n":110.5},
      {"s":"c","t":2013.975,"n":113.5},{"s":"c","t":2014.02,"n":111},{"s":"c","t":2014.055,"n":113.5},{"s":"c","t":2014.085,"n":111},{"s":"c","t":2014.115,"n":113.5},
      {"s":"c","t":2014.145,"n":109},{"s":"c","t":2014.17,"n":110},{"s":"c","t":2014.19,"n":106.5},{"s":"c","t":2014.21,"n":108},{"s":"c","t":2014.23,"n":104},
      {"s":"c","t":2014.245,"n":102.5},{"s":"c","t":2014.28,"n":98.5},{"s":"c","t":2014.30,"n":95},{"s":"c","t":2014.32,"n":92},{"s":"c","t":2014.34,"n":88.5},
      {"s":"c","t":2014.36,"n":85.5},{"s":"c","t":2014.38,"n":83.5},{"s":"c","t":2014.40,"n":81.5},{"s":"c","t":2014.42,"n":79.5},{"s":"c","t":2014.44,"n":76.5},
      {"s":"c","t":2014.46,"n":74},{"s":"c","t":2014.48,"n":71.5},{"s":"c","t":2014.50,"n":69},{"s":"c","t":2014.52,"n":66.5},{"s":"c","t":2014.545,"n":64},
      {"s":"c","t":2014.575,"n":62},{"s":"c","t":2014.605,"n":59.5},{"s":"c","t":2014.635,"n":57.5},{"s":"c","t":2014.665,"n":55.5},{"s":"c","t":2014.695,"n":54},
      {"s":"c","t":2014.725,"n":52},{"s":"c","t":2014.755,"n":54},{"s":"c","t":2014.785,"n":50.5},{"s":"c","t":2014.815,"n":48.5},{"s":"c","t":2014.845,"n":54},
      {"s":"c","t":2014.875,"n":49},{"s":"c","t":2014.905,"n":53.5},{"s":"c","t":2014.935,"n":48},{"s":"c","t":2014.965,"n":52.5},
      {"s":"d","t":2015.00,"n":53.5},{"s":"d","t":2015.05,"n":46.5},{"s":"d","t":2015.10,"n":49},{"s":"d","t":2015.15,"n":43.5},{"s":"d","t":2015.20,"n":49.5},
      {"s":"d","t":2015.25,"n":46.8},{"s":"d","t":2015.30,"n":52.5},{"s":"d","t":2015.35,"n":46.5},{"s":"d","t":2015.40,"n":50.5},{"s":"d","t":2015.45,"n":53},
      {"s":"d","t":2015.50,"n":46.5},{"s":"d","t":2015.55,"n":52.7},{"s":"d","t":2015.60,"n":56.5},{"s":"d","t":2015.65,"n":51},{"s":"d","t":2015.70,"n":55},
      {"s":"d","t":2015.75,"n":50.5},{"s":"d","t":2015.80,"n":57.5},{"s":"d","t":2015.85,"n":54.8},{"s":"d","t":2015.90,"n":60.5},{"s":"d","t":2015.95,"n":54.5},
      {"s":"d","t":2016.00,"n":58.5},{"s":"d","t":2016.05,"n":61.2},{"s":"d","t":2016.10,"n":55},{"s":"d","t":2016.15,"n":61.3},{"s":"d","t":2016.20,"n":65},
      {"s":"d","t":2016.25,"n":59.5},{"s":"d","t":2016.30,"n":63.5},{"s":"d","t":2016.35,"n":59.5},{"s":"d","t":2016.40,"n":67},{"s":"d","t":2016.45,"n":64.5},
      {"s":"d","t":2016.50,"n":70.5},{"s":"d","t":2016.55,"n":64.5},{"s":"d","t":2016.60,"n":68.5},{"s":"d","t":2016.65,"n":71.5},{"s":"d","t":2016.70,"n":65.5},
      {"s":"d","t":2016.75,"n":71.7},{"s":"d","t":2016.80,"n":75.5},{"s":"d","t":2016.85,"n":69.7},{"s":"d","t":2016.90,"n":73.5},{"s":"d","t":2016.95,"n":68.8},
      {"s":"d","t":2017.00,"n":75.5},{"s":"d","t":2017.05,"n":72.5},{"s":"d","t":2017.10,"n":77.5},{"s":"d","t":2017.15,"n":71.5},{"s":"d","t":2017.20,"n":75},
      {"s":"d","t":2017.25,"n":77.5},{"s":"d","t":2017.30,"n":72},{"s":"d","t":2017.35,"n":77},{"s":"d","t":2017.40,"n":79},{"s":"d","t":2017.43,"n":76},
      {"s":"d","t":2017.46,"n":79.5},{"s":"d","t":2017.49,"n":75.5},{"s":"d","t":2017.52,"n":73},{"s":"d","t":2017.54,"n":70.5},{"s":"d","t":2017.56,"n":68},
      {"s":"d","t":2017.58,"n":65.5},{"s":"d","t":2017.60,"n":63},{"s":"d","t":2017.62,"n":61},{"s":"d","t":2017.64,"n":60},{"s":"d","t":2017.66,"n":58.5},
      {"s":"d","t":2017.69,"n":57},{"s":"d","t":2017.72,"n":55.5},{"s":"d","t":2017.75,"n":59},{"s":"d","t":2017.80,"n":52.5},{"s":"d","t":2017.85,"n":55.8},
      {"s":"d","t":2017.86,"n":49.5},{"s":"d","t":2017.90,"n":50.5},{"s":"d","t":2017.95,"n":56.7},{"s":"d","t":2018.00,"n":53},{"s":"d","t":2018.05,"n":57.5},
      {"s":"d","t":2018.10,"n":50},{"s":"d","t":2018.15,"n":52.2},{"s":"d","t":2018.20,"n":53.5},{"s":"d","t":2018.25,"n":45.2},{"s":"d","t":2018.30,"n":49.5},
      {"s":"d","t":2018.35,"n":53},{"s":"d","t":2018.40,"n":47.5},{"s":"d","t":2018.45,"n":52},{"s":"d","t":2018.50,"n":48},{"s":"d","t":2018.55,"n":55.3},
      {"s":"d","t":2018.60,"n":52.5},{"s":"d","t":2018.65,"n":58.2},{"s":"d","t":2018.70,"n":52},{"s":"d","t":2018.75,"n":56},{"s":"d","t":2018.80,"n":59},
      {"s":"d","t":2018.85,"n":55},{"s":"d","t":2018.90,"n":60.5},{"s":"d","t":2018.92,"n":61.5},
      {"s":"d","t":2015.025,"n":46.5},{"s":"d","t":2015.075,"n":51},{"s":"d","t":2015.125,"n":46.8},{"s":"d","t":2015.175,"n":50.7},{"s":"d","t":2015.225,"n":43.9},
      {"s":"d","t":2015.275,"n":50.2},{"s":"d","t":2015.325,"n":46.5},{"s":"d","t":2015.375,"n":53},{"s":"d","t":2015.425,"n":50.3},{"s":"d","t":2015.475,"n":55.2},
      {"s":"d","t":2015.525,"n":49.8},{"s":"d","t":2015.575,"n":53.1},{"s":"d","t":2015.625,"n":50.2},{"s":"d","t":2015.675,"n":56.3},{"s":"d","t":2015.725,"n":53.2},
      {"s":"d","t":2015.775,"n":58.3},{"s":"d","t":2015.825,"n":51.9},{"s":"d","t":2015.875,"n":58.2},{"s":"d","t":2015.925,"n":54.5},{"s":"d","t":2015.975,"n":61},
      {"s":"d","t":2016.025,"n":58.3},{"s":"d","t":2016.075,"n":63.6},{"s":"d","t":2016.125,"n":58.4},{"s":"d","t":2016.175,"n":61.7},{"s":"d","t":2016.225,"n":58.8},
      {"s":"d","t":2016.275,"n":64.7},{"s":"d","t":2016.325,"n":62},{"s":"d","t":2016.375,"n":67.5},{"s":"d","t":2016.425,"n":61.5},{"s":"d","t":2016.475,"n":68},
      {"s":"d","t":2016.525,"n":64.5},{"s":"d","t":2016.575,"n":71},{"s":"d","t":2016.625,"n":68.5},{"s":"d","t":2016.675,"n":74},{"s":"d","t":2016.725,"n":68.8},
      {"s":"d","t":2016.775,"n":72.1},{"s":"d","t":2016.825,"n":69.1},{"s":"d","t":2016.875,"n":74.9},{"s":"d","t":2016.925,"n":71.6},{"s":"d","t":2016.975,"n":76.4},
      {"s":"d","t":2017.025,"n":69.7},{"s":"d","t":2017.075,"n":75.8},{"s":"d","t":2017.125,"n":71.7},{"s":"d","t":2017.175,"n":77.8},{"s":"d","t":2017.225,"n":74.7},
      {"s":"d","t":2017.275,"n":79},{"s":"d","t":2017.325,"n":74.2},{"s":"d","t":2017.375,"n":77.3},{"s":"d","t":2017.505,"n":74.5},{"s":"d","t":2017.53,"n":71.5},
      {"s":"d","t":2017.55,"n":69.5},{"s":"d","t":2017.57,"n":67},{"s":"d","t":2017.59,"n":64},{"s":"d","t":2017.61,"n":62},{"s":"d","t":2017.63,"n":61.5},
      {"s":"d","t":2017.655,"n":59.5},{"s":"d","t":2017.68,"n":56},{"s":"d","t":2017.705,"n":58},
      {"s":"d","t":2017.775,"n":52.2},{"s":"d","t":2017.825,"n":57.4},{"s":"d","t":2017.875,"n":53.6},{"s":"d","t":2017.925,"n":57.9},{"s":"d","t":2017.975,"n":50.6},
      {"s":"d","t":2018.025,"n":55.8},{"s":"d","t":2018.075,"n":50.7},{"s":"d","t":2018.125,"n":55.6},{"s":"d","t":2018.175,"n":51.3},{"s":"d","t":2018.225,"n":54.8},
      {"s":"d","t":2018.275,"n":47.6},{"s":"d","t":2018.325,"n":49.7},{"s":"d","t":2018.375,"n":46.8},{"s":"d","t":2018.425,"n":53},{"s":"d","t":2018.475,"n":50.5},
      {"s":"d","t":2018.525,"n":55.9},{"s":"d","t":2018.575,"n":49.7},{"s":"d","t":2018.625,"n":55.8},{"s":"d","t":2018.675,"n":52.1},{"s":"d","t":2018.725,"n":58.5},
      {"s":"d","t":2018.775,"n":56},{"s":"d","t":2018.825,"n":61.5},{"s":"d","t":2018.875,"n":56.5}
    ],
    "fits": [
      {"k":"p","t":1996.98,"v":17.4},{"k":"p","t":2014.57,"v":90.4},
      {"k":"r","t":1996.98,"v":19.3},{"k":"r","t":2015.0,"v":90.1}
    ],
    "ref": [{"t":1997.17,"v":8.2},{"t":2016.0,"v":62.6}],
    "quake": [{"t":2014.25,"lo":-9.7,"hi":131.6}],
    "brackets": [
      {"k":"b","o":1,"t":2014.06,"v":89.1},{"k":"b","o":2,"t":2014.06,"v":102.7},{"k":"b","o":3,"t":2016.52,"v":102.7},
      {"k":"p","o":1,"t":2014.62,"v":91.5},{"k":"p","o":2,"t":2014.62,"v":94.8},{"k":"p","o":3,"t":2017.22,"v":94.8},
      {"k":"r","o":1,"t":2014.95,"v":88.5},{"k":"r","o":2,"t":2014.95,"v":86.3},{"k":"r","o":3,"t":2018.24,"v":86.3}
    ],
    "rates": [
      {"k":"b","t":2014.53,"v":103.0,"label":"4.18 ± 0.04"},
      {"k":"p","t":2015.06,"v":95.7,"label":"4.16 ± 0.04"},
      {"k":"r","t":2016.12,"v":88.0,"label":"3.96 ± 0.04"}
    ],
    "arrow": [{"t":2012.37,"v":2.1,"t2":2014.015,"v2":7.44}]
  },
  "resolve": {"axis": {"x": "independent", "y": "independent"}},
  "layer": [
    {
      "data": {"name": "gps"},
      "mark": {"type": "errorbar", "color": "#acacac", "thickness": 1, "ticks": true, "size": 7},
      "encoding": {
        "x": {"field": "t", "type": "quantitative", "axis": null},
        "y": {"field": "n", "type": "quantitative", "axis": null},
        "yError": {"value": 2.9}
      }
    },
    {
      "data": {"name": "ref"},
      "mark": {"type": "line", "color": "#b8b8b8", "strokeWidth": 1.2, "strokeDash": [9, 6]},
      "encoding": {
        "x": {"field": "t", "type": "quantitative",
              "axis": {"orient": "bottom", "values": [1997,1998,1999,2001,2002,2003,2004,2006,2007,2008,2009,2011,2012,2013,2014,2016,2017,2018,2019],
                       "labels": false, "domain": false, "tickSize": -9, "tickWidth": 5, "tickColor": "black", "title": null}},
        "y": {"field": "v", "type": "quantitative",
              "axis": {"orient": "left", "values": [10,30,50,70,90,110,130],
                       "labels": false, "domain": false, "tickSize": -12, "tickWidth": 5, "tickColor": "black", "title": null}}
      }
    },
    {
      "data": {"name": "gps"},
      "mark": {"type": "line", "strokeWidth": 0.8},
      "encoding": {
        "x": {"field": "t", "type": "quantitative", "axis": null},
        "y": {"field": "n", "type": "quantitative", "axis": null},
        "detail": {"field": "s"},
        "stroke": {"condition": {"test": "datum.s === 'd'", "value": "#8ccbee"}, "value": "#1a2db0"}
      }
    },
    {
      "data": {"name": "gps"},
      "mark": {"type": "circle", "size": 118, "strokeWidth": 1, "opacity": 1},
      "encoding": {
        "x": {"field": "t", "type": "quantitative",
              "scale": {"domain": [1996.5, 2019], "nice": false, "zero": false},
              "axis": {"orient": "bottom", "values": [2000, 2005, 2010, 2015], "format": "d", "ticks": false,
                       "labelFontSize": 51, "labelPadding": 61, "labelBaseline": "alphabetic", "labelFlush": false,
                       "domainColor": "black", "domainWidth": 5, "domainCap": "square",
                       "title": "Time, year", "titleFontSize": 62, "titleX": 751, "titleY": 129,
                       "titleBaseline": "alphabetic", "titleAlign": "center"}},
        "y": {"field": "n", "type": "quantitative",
              "scale": {"domain": [-9.7, 130], "nice": false, "zero": false},
              "axis": {"orient": "left", "values": [0, 20, 40, 60, 80, 100, 120], "ticks": false,
                       "labelFontSize": 51, "labelPadding": 28, "labelFlush": false,
                       "domainColor": "black", "domainWidth": 5.5, "domainCap": "square",
                       "title": "Northern, mm", "titleFontSize": 62, "titleX": -116, "titleY": 604,
                       "titleAngle": -90, "titleBaseline": "alphabetic", "titleAlign": "center"}},
        "fill": {"condition": {"test": "datum.s === 'd'", "value": "#d9f1c6"}, "value": "#20dff6"},
        "stroke": {"condition": {"test": "datum.s === 'd'", "value": "#8ccbee"}, "value": "#1c34c0"}
      }
    },
    {
      "data": {"name": "fits"},
      "mark": {"type": "line", "strokeWidth": 3},
      "encoding": {
        "x": {"field": "t", "type": "quantitative",
              "axis": {"orient": "bottom", "values": [2000, 2005, 2010, 2015], "labels": false, "domain": false,
                       "tickSize": -15, "tickWidth": 1.3, "tickColor": "#2a2a8a", "title": null}},
        "y": {"field": "v", "type": "quantitative",
              "axis": {"orient": "left", "values": [0, 20, 40, 60, 80, 100, 120], "labels": false, "domain": false,
                       "tickSize": -22, "tickWidth": 1.5, "tickColor": "black", "title": null}},
        "color": {"field": "k", "type": "nominal", "legend": null,
                  "scale": {"domain": ["b", "p", "r"], "range": ["#2346e0", "#a020c8", "#e8141c"]}}
      }
    },
    {
      "data": {"name": "quake"},
      "mark": {"type": "rule", "color": "#8e8e8e", "strokeWidth": 1.5},
      "encoding": {
        "x": {"field": "t", "type": "quantitative", "axis": null},
        "y": {"field": "lo", "type": "quantitative", "axis": null},
        "y2": {"field": "hi"}
      }
    },
    {
      "data": {"name": "brackets"},
      "mark": {"type": "line", "strokeWidth": 1.2},
      "encoding": {
        "x": {"field": "t", "type": "quantitative", "axis": null},
        "y": {"field": "v", "type": "quantitative", "axis": null},
        "order": {"field": "o"},
        "color": {"field": "k", "type": "nominal", "legend": null,
                  "scale": {"domain": ["b", "p", "r"], "range": ["#2346e0", "#a020c8", "#e8141c"]}}
      }
    },
    {
      "data": {"name": "rates"},
      "mark": {"type": "text", "font": "Liberation Serif", "fontSize": 28.5, "fontWeight": "bold", "align": "left", "baseline": "alphabetic"},
      "encoding": {
        "x": {"field": "t", "type": "quantitative", "axis": null},
        "y": {"field": "v", "type": "quantitative", "axis": null},
        "text": {"field": "label"},
        "color": {"field": "k", "type": "nominal", "legend": null,
                  "scale": {"domain": ["b", "p", "r"], "range": ["#2346e0", "#a020c8", "#e8141c"]}}
      }
    },
    {
      "data": {"name": "arrow"},
      "mark": {"type": "rule", "color": "black", "strokeWidth": 1.5},
      "encoding": {
        "x": {"field": "t", "type": "quantitative", "axis": null},
        "y": {"field": "v", "type": "quantitative", "axis": null},
        "x2": {"field": "t2"},
        "y2": {"field": "v2"}
      }
    },
    {
      "data": {"name": "arrow"},
      "mark": {"type": "point", "shape": "M0,-1L0.42,1L-0.42,1Z", "filled": true, "color": "black", "opacity": 1, "size": 576, "angle": 67.3},
      "encoding": {
        "x": {"field": "t2", "type": "quantitative", "axis": null},
        "y": {"field": "v2", "type": "quantitative", "axis": null}
      }
    },
    {
      "data": {"values": [{"t": 2013.92, "v": -4.4, "label": "Apr.18, 2014 Mw7.3"}]},
      "mark": {"type": "text", "font": "Liberation Serif", "fontStyle": "italic", "fontSize": 46, "align": "right", "baseline": "alphabetic", "color": "black"},
      "encoding": {
        "x": {"field": "t", "type": "quantitative", "axis": null},
        "y": {"field": "v", "type": "quantitative", "axis": null},
        "text": {"field": "label"}
      }
    },
    {
      "data": {"values": [{"t": 1997.08, "v": 123.3, "label": "CAYA"}]},
      "mark": {"type": "text", "font": "Liberation Sans", "fontSize": 46, "align": "left", "baseline": "alphabetic", "color": "black"},
      "encoding": {
        "x": {"field": "t", "type": "quantitative", "axis": null},
        "y": {"field": "v", "type": "quantitative", "axis": null},
        "text": {"field": "label"}
      }
    }
  ]
}
